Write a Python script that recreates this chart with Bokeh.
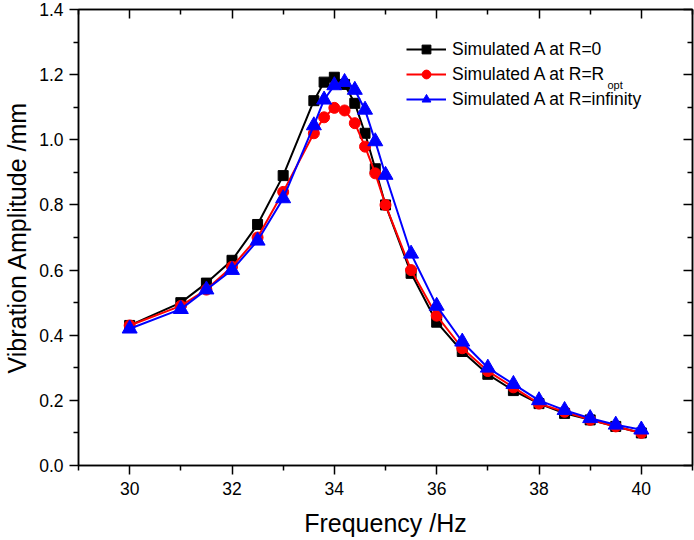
from bokeh.plotting import figure
from bokeh.models import (Range1d, LinearAxis, FixedTicker, Legend, LegendItem,
                          Label, PrintfTickFormatter)
from bokeh.embed import file_html
from bokeh.resources import INLINE

# ---- data ----
freq = [30, 31, 31.5, 32, 32.5, 33, 33.6, 33.8, 34, 34.2, 34.4, 34.6, 34.8, 35,
        35.5, 36, 36.5, 37, 37.5, 38, 38.5, 39, 39.5, 40]
amp_r0 = [0.43, 0.50, 0.56, 0.63, 0.74, 0.89, 1.12, 1.177, 1.192, 1.17, 1.112, 1.02,
          0.911, 0.80, 0.59, 0.44, 0.35, 0.28, 0.23, 0.19, 0.16, 0.14, 0.12, 0.10]
amp_ropt = [0.43, 0.49, 0.54, 0.61, 0.70, 0.84, 1.02, 1.069, 1.098, 1.09, 1.051, 0.979,
            0.897, 0.80, 0.60, 0.46, 0.36, 0.29, 0.24, 0.19, 0.165, 0.14, 0.12, 0.10]
amp_rinf = [0.42, 0.48, 0.54, 0.60, 0.69, 0.82, 1.044, 1.123, 1.167, 1.177, 1.153, 1.092,
            0.995, 0.892, 0.65, 0.49, 0.38, 0.30, 0.25, 0.20, 0.17, 0.145, 0.125, 0.11]
labels = ["Simulated A at R=0", "Simulated A at R=R", "Simulated A at R=infinity"]
subscript = "opt"

x_ticks = [30, 32, 34, 36, 38, 40]
x_minor = [29, 31, 33, 35, 37, 39, 41]
y_ticks = [0.0, 0.2, 0.4, 0.6, 0.8, 1.0, 1.2, 1.4]
y_minor = [0.1, 0.3, 0.5, 0.7, 0.9, 1.1, 1.3]

FONT = "Liberation Sans"

p = figure(width=694, height=540, x_range=Range1d(29, 41), y_range=Range1d(0, 1.4),
           output_backend="svg", toolbar_location=None, min_border=0,
           min_border_left=77, min_border_bottom=75, min_border_top=9, min_border_right=2)
p.grid.visible = False
p.outline_line_color = "black"
p.outline_line_width = 1.5
p.background_fill_color = "white"
p.border_fill_color = "white"

def style_axis(ax, inward=False):
    ax.axis_line_width = 1.5
    ax.major_tick_line_width = 1.5
    ax.minor_tick_line_width = 1.5
    if inward:
        ax.major_tick_in = 9
        ax.major_tick_out = 0
        ax.minor_tick_in = 5
        ax.minor_tick_out = 0
        ax.major_label_text_font_size = "1px"
        ax.major_label_text_color = None
        ax.major_label_text_alpha = 0
        ax.major_label_standoff = 0
    else:
        ax.major_tick_in = 0
        ax.major_tick_out = 9
        ax.minor_tick_in = 0
        ax.minor_tick_out = 5
        ax.major_label_text_font = FONT
        ax.major_label_text_font_size = "17.5px"
        ax.major_label_text_color = "black"
        ax.major_label_text_line_height = 1.0
        ax.axis_label_text_font = FONT
        ax.axis_label_text_font_size = "25px"
        ax.axis_label_text_font_style = "normal"
        ax.axis_label_text_color = "black"
        ax.axis_label_text_line_height = 1.0

xt = FixedTicker(ticks=x_ticks, minor_ticks=x_minor)
yt = FixedTicker(ticks=y_ticks, minor_ticks=y_minor)

p.xaxis.ticker = xt
p.yaxis.ticker = yt
p.yaxis.formatter = PrintfTickFormatter(format="%.1f")
p.xaxis.axis_label = "Frequency /Hz"
p.yaxis.axis_label = "Vibration Amplitude /mm"
style_axis(p.xaxis[0])
style_axis(p.yaxis[0])
p.xaxis.major_label_standoff = 7
p.xaxis.axis_label_standoff = 11
p.yaxis.major_label_standoff = 6
p.yaxis.axis_label_standoff = 5

top_ax = LinearAxis(ticker=FixedTicker(ticks=x_ticks, minor_ticks=x_minor))
right_ax = LinearAxis(ticker=FixedTicker(ticks=y_ticks, minor_ticks=y_minor))
style_axis(top_ax, inward=True)
style_axis(right_ax, inward=True)
p.add_layout(top_ax, "above")
p.add_layout(right_ax, "right")

l0 = p.line(freq, amp_r0, color="black", line_width=2)
s0 = p.scatter(freq, amp_r0, marker="square", size=10, color="black")
l1 = p.line(freq, amp_ropt, color="red", line_width=2)
s1 = p.scatter(freq, amp_ropt, marker="circle", size=11, color="red")
l2 = p.line(freq, amp_rinf, color="blue", line_width=2)
s2 = p.scatter(freq, amp_rinf, marker="triangle", size=15, color="blue")

legend = Legend(items=[LegendItem(label=labels[0], renderers=[l0, s0]),
                       LegendItem(label=labels[1], renderers=[l1, s1]),
                       LegendItem(label=labels[2], renderers=[l2, s2])],
                location=(328, 355), background_fill_alpha=0, border_line_color=None,
                padding=0, margin=0, spacing=3, label_height=22, glyph_height=22,
                glyph_width=40, label_standoff=6, label_text_font=FONT,
                label_text_font_size="17.5px", label_text_color="black")
p.add_layout(legend)

sub = Label(x=529, y=381, x_units="screen", y_units="screen", text=subscript,
            text_font=FONT, text_font_size="11px", text_baseline="alphabetic",
            text_color="black")
p.add_layout(sub)

open("out.html", "w").write(file_html(p, INLINE))
